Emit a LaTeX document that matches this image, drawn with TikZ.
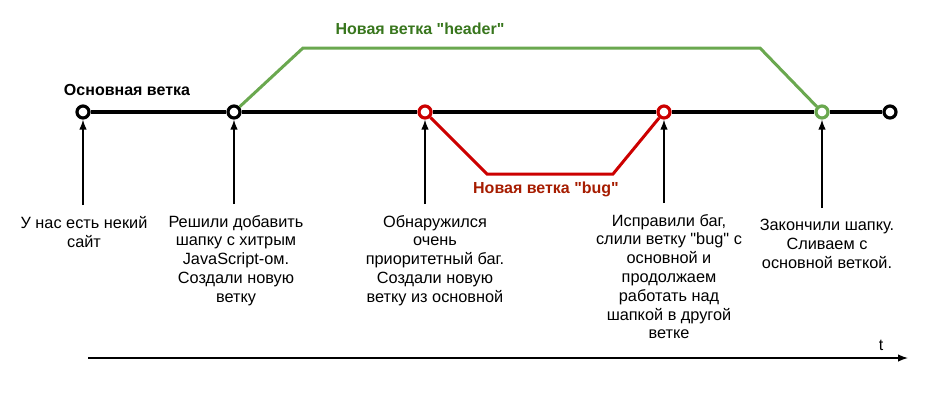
\documentclass[tikz,border=0pt]{standalone}
\usepackage{fontspec}
\setmainfont{Liberation Sans}[Ligatures=TeXOff]
\usetikzlibrary{arrows.meta,positioning}

\definecolor{hdrline}{HTML}{6AA84F}
\definecolor{hdrtext}{HTML}{38761D}
\definecolor{bugline}{HTML}{CC0000}
\definecolor{bugtext}{HTML}{A61C00}

\tikzset{
  commit/.style={circle, draw, line width=3.2pt, fill=white, minimum size=12pt, inner sep=0pt},
  mainline/.style={line width=3.6pt},
  branch/.style={line width=3pt},
  event/.style={align=center, anchor=north, inner sep=0pt, font=\fontsize{16.3}{18.8}\selectfont},
  evarrow/.style={line width=1.4pt, -{Latex[length=10pt,width=7.5pt]}, shorten <=11pt},
  title/.style={font=\fontsize{16}{18}\selectfont\bfseries}
}

\begin{document}
\begin{tikzpicture}[x=1pt,y=-1pt]
\useasboundingbox (0,0) rectangle (948,408);

% commits on the main branch
\node[commit] (c1) at (83,112) {};
\node[commit] (c2) at (234,112) {};
\node[commit, draw=bugline] (c3) at (425,112) {};
\node[commit, draw=bugline] (c4) at (664,112) {};
\node[commit, draw=hdrline] (c5) at (822,112) {};
\node[commit] (c6) at (890,112) {};

\coordinate (h1) at (303,48); \coordinate (h2) at (760,48);
\coordinate (b1) at (487,174); \coordinate (b2) at (613,174);

\draw[mainline] (c1) -- (c2) -- (c3) -- (c4) -- (c5) -- (c6);
\draw[branch, hdrline] (c2) -- (h1) -- (h2) -- (c5);
\draw[branch, bugline] (c3) -- (b1) -- (b2) -- (c4);

\node[title] (lmain) at (127,90) {Основная ветка};
\node[title, hdrtext] (lhdr) at (420,29) {Новая ветка "header"};
\node[title, bugtext] (lbug) at (546,189) {Новая ветка "bug"};

% events
\node[event] (t1) at (84,216) {У нас есть некий\\сайт};
\node[event] (t2) at (236,215) {Решили добавить\\шапку с хитрым\\JavaScript-ом.\\Создали новую\\ветку};
\node[event] (t3) at (435,215) {Обнаружился\\очень\\приоритетный баг.\\Создали новую\\ветку из основной};
\node[event] (t4) at (669,214) {Исправили баг,\\слили ветку "bug" с\\основной и\\продолжаем\\работать над\\шапкой в другой\\ветке};
\node[event] (t5) at (827,219) {Закончили шапку.\\Сливаем с\\основной веткой.};

\foreach \i in {1,...,5}
  \draw[evarrow] (c\i |- t\i.north) -- (c\i);

% time axis
\coordinate (ta) at (88,358); \coordinate (tb) at (908,358);
\draw[line width=1.4pt, -{Latex[length=10pt,width=7.5pt]}] (ta) -- (tb);
\node[font=\fontsize{16}{18}\selectfont] (tt) at (881,345) {t};
\end{tikzpicture}
\end{document}
